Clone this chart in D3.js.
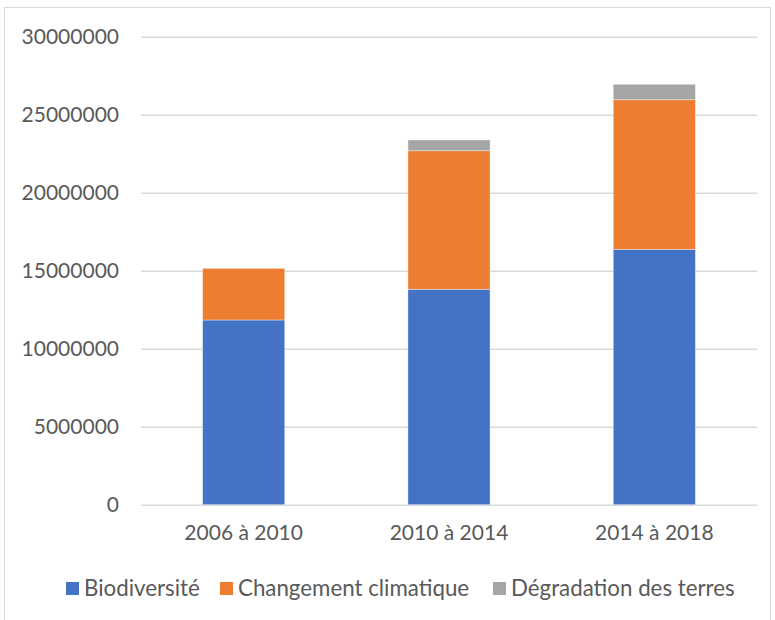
<!DOCTYPE html>
<html>
<head>
<meta charset="utf-8">
<script src="https://cdn.jsdelivr.net/npm/d3@7"></script>
<style>
  html, body { margin: 0; padding: 0; background: #fff; }
  svg { display: block; }
  text { font-family: Lato, "Open Sans", sans-serif; fill: #595959; }
</style>
</head>
<body>
<svg id="chart" width="775" height="620"></svg>
<script>
// Funding periods and amounts per focal area
const periods = ["2006 à 2010", "2010 à 2014", "2014 à 2018"];
const seriesNames = ["Biodiversité", "Changement climatique", "Dégradation des terres"];
const biodiversite = [11840000, 13810000, 16370000];
const changementClimatique = [3310000, 8880000, 9590000];
const degradationTerres = [0, 690000, 990000];
const yTicks = [0, 5000000, 10000000, 15000000, 20000000, 25000000, 30000000];
const colors = ["#4472C4", "#ED7D31", "#A5A5A5"];

const rows = periods.map((p, i) => ({
  period: p,
  "Biodiversité": biodiversite[i],
  "Changement climatique": changementClimatique[i],
  "Dégradation des terres": degradationTerres[i]
}));

const svg = d3.select("#chart");

// chart frame
svg.append("rect")
  .attr("x", 4.5).attr("y", 7.5)
  .attr("width", 766).attr("height", 620)
  .attr("fill", "none").attr("stroke", "#d9d9d9").attr("stroke-width", 1);

const plot = { left: 141, right: 757, top: 36.7, bottom: 504.7 };

const x = d3.scaleBand()
  .domain(periods)
  .range([plot.left, plot.right])
  .paddingInner(0.6)
  .paddingOuter(0.3);

const y = d3.scaleLinear()
  .domain([0, 30000000])
  .range([plot.bottom, plot.top]);

// horizontal gridlines + y labels
const yAxis = d3.axisLeft(y)
  .tickValues(yTicks)
  .tickFormat(d3.format("d"))
  .tickSize(-(plot.right - plot.left))
  .tickPadding(22);

const gy = svg.append("g")
  .attr("transform", `translate(${plot.left},0)`)
  .call(yAxis);
gy.select(".domain").remove();
gy.selectAll(".tick line").attr("stroke", "#d9d9d9").attr("stroke-width", 1.5);
gy.selectAll(".tick text")
  .style("font-size", "21px")
  .attr("fill", "#595959");

// stacked bars
const stack = d3.stack().keys(seriesNames);
const layers = stack(rows);

svg.append("g")
  .selectAll("g")
  .data(layers)
  .join("g")
  .attr("fill", (d, i) => colors[i])
  .selectAll("rect")
  .data(d => d.filter(s => s[1] - s[0] > 0))
  .join("rect")
  .attr("x", d => x(d.data.period))
  .attr("width", x.bandwidth())
  .attr("y", d => y(d[1]))
  .attr("height", d => y(d[0]) - y(d[1]))
  .attr("stroke", "#ffffff")
  .attr("stroke-opacity", 0.5)
  .attr("stroke-width", 0.75);

// x axis labels
const xAxis = d3.axisBottom(x).tickSize(0).tickPadding(20);
const gx = svg.append("g")
  .attr("transform", `translate(0,${plot.bottom})`)
  .call(xAxis);
gx.select(".domain").remove();
gx.selectAll(".tick text")
  .style("font-size", "21px")
  .attr("fill", "#595959");

// legend
const legendX = [66, 220, 493];
const legend = svg.append("g");
seriesNames.forEach((name, i) => {
  const g = legend.append("g").attr("transform", `translate(${legendX[i]},582)`);
  g.append("rect").attr("width", 13).attr("height", 13).attr("fill", colors[i]);
  g.append("text")
    .attr("x", 18).attr("y", 6)
    .attr("dy", "0.35em")
    .style("font-size", "22.3px")
    .text(name);
});
</script>
</body>
</html>
